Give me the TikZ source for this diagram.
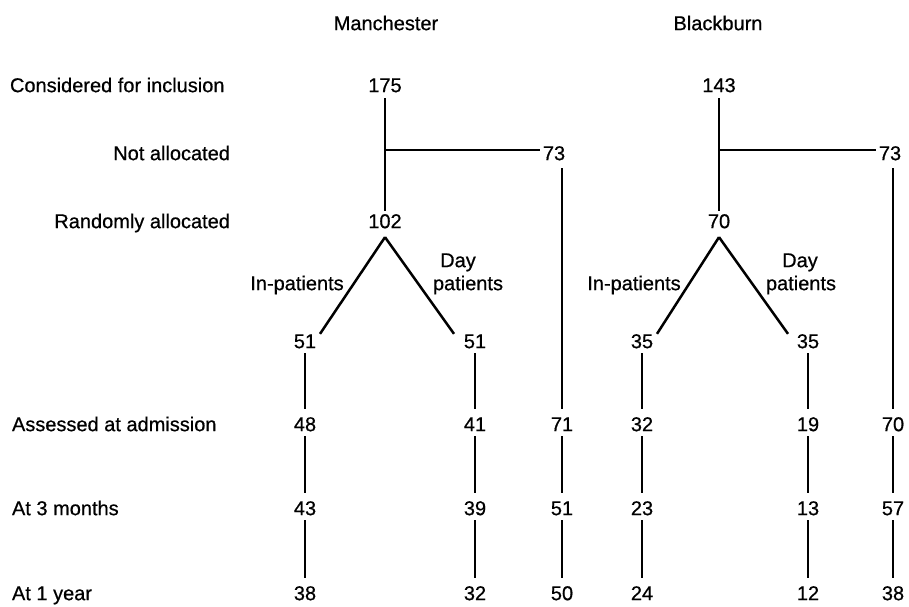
\documentclass[tikz,border=0pt]{standalone}
\usepackage{fontspec}
\setmainfont[FakeBold=0.6]{Liberation Sans}
\tikzset{
  txt/.style={font=\fontsize{20}{23}\selectfont, inner sep=0pt, outer sep=0pt, text height=14.3pt, text depth=0pt},
  link/.style={line width=2.5pt, shorten <=5pt, shorten >=8pt},
  diag/.style={line width=2.5pt},
}
\begin{document}
\begin{tikzpicture}[x=1pt,y=-1pt]
\useasboundingbox (0,0) rectangle (909,606);
% headers
\node[txt] (hM) at (386,23) {Manchester};
\node[txt] (hB) at (718,23) {Blackburn};
% row labels
\node[txt, anchor=west] (lc) at (10,85) {Considered for inclusion};
\node[txt, anchor=east] (ln) at (230,153) {Not allocated};
\node[txt, anchor=east] (lr) at (230,221) {Randomly allocated};
\node[txt, anchor=west] (la) at (12,424) {Assessed at admission};
\node[txt, anchor=west] (l3) at (12,508) {At 3 months};
\node[txt, anchor=west] (l1) at (12,593) {At 1 year};
% Manchester
\node[txt] (m175) at (385,85) {175};
\coordinate (mc) at (385,150);
\node[txt] (m73) at (554,153) {73};
\node[txt] (m102) at (385,221) {102};
\node[txt] (mIn) at (297,283) {In-patients};
\node[txt] (mDay) at (458,260) {Day};
\node[txt] (mPat) at (468,283) {patients};
\node[txt] (mi51) at (305,341) {51};
\node[txt] (md51) at (475,341) {51};
\node[txt] (m48) at (305,424) {48};
\node[txt] (m41) at (475,424) {41};
\node[txt] (m71) at (562,424) {71};
\node[txt] (m43) at (305,508) {43};
\node[txt] (m39) at (475,508) {39};
\node[txt] (m51) at (562,508) {51};
\node[txt] (m38) at (305,593) {38};
\node[txt] (m32) at (475,593) {32};
\node[txt] (m50) at (562,593) {50};
% Blackburn
\node[txt] (b143) at (719,85) {143};
\coordinate (bc) at (719,150);
\node[txt] (b73) at (890,153) {73};
\node[txt] (b70) at (719,221) {70};
\node[txt] (bIn) at (634,283) {In-patients};
\node[txt] (bDay) at (800,260) {Day};
\node[txt] (bPat) at (801,283) {patients};
\node[txt] (bi35) at (642,341) {35};
\node[txt] (bd35) at (808,341) {35};
\node[txt] (b32) at (642,424) {32};
\node[txt] (b19) at (808,424) {19};
\node[txt] (b70b) at (893,424) {70};
\node[txt] (b23) at (642,508) {23};
\node[txt] (b13) at (808,508) {13};
\node[txt] (b57) at (893,508) {57};
\node[txt] (b24) at (642,593) {24};
\node[txt] (b12) at (808,593) {12};
\node[txt] (b38) at (893,593) {38};
% Manchester connectors
\draw[link, shorten <=6pt, shorten >=3pt] (m175) -- (m102);
\draw[link, shorten <=0pt, shorten >=3pt] (mc) -- (mc -| m73.west);
\draw[link, shorten <=8pt, shorten >=8pt] (m73.south -| m71.north) -- (m71.north);
\draw[diag] ([yshift=-9pt]m102.south) -- ([xshift=15pt]mi51.north);
\draw[diag] ([yshift=-9pt]m102.south) -- ([xshift=-21pt]md51.north);
\draw[link] (mi51) -- (m48);
\draw[link] (m48) -- (m43);
\draw[link] (m43) -- (m38);
\draw[link] (md51) -- (m41);
\draw[link] (m41) -- (m39);
\draw[link] (m39) -- (m32);
\draw[link] (m71) -- (m51);
\draw[link] (m51) -- (m50);
% Blackburn connectors
\draw[link, shorten <=6pt, shorten >=3pt] (b143) -- (b70);
\draw[link, shorten <=0pt, shorten >=3pt] (bc) -- (bc -| b73.west);
\draw[link, shorten <=8pt, shorten >=8pt] (b73.south -| b70b.north) -- (b70b.north);
\draw[diag] ([yshift=-9pt]b70.south) -- ([xshift=15pt]bi35.north);
\draw[diag] ([yshift=-9pt]b70.south) -- ([xshift=-20pt]bd35.north);
\draw[link] (bi35) -- (b32);
\draw[link] (b32) -- (b23);
\draw[link] (b23) -- (b24);
\draw[link] (bd35) -- (b19);
\draw[link] (b19) -- (b13);
\draw[link] (b13) -- (b12);
\draw[link] (b70b) -- (b57);
\draw[link] (b57) -- (b38);
\end{tikzpicture}
\end{document}
